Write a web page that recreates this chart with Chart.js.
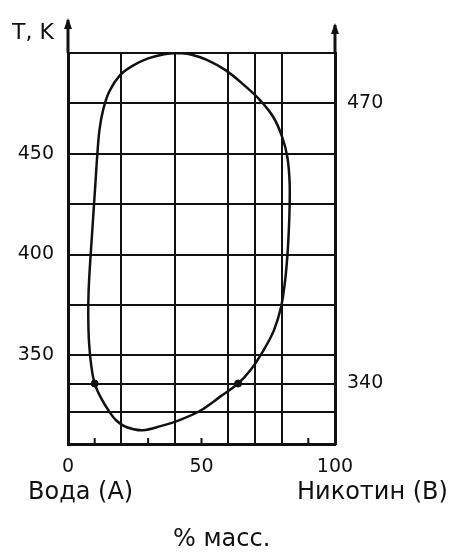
<!DOCTYPE html>
<html>
<head>
<meta charset="utf-8">
<script src="https://cdn.jsdelivr.net/npm/chart.js@4.4.1/dist/chart.umd.min.js"></script>
<style>
  html, body { margin: 0; padding: 0; background: #fff; }
  #wrap { width: 476px; height: 553px; }
</style>
</head>
<body>
<div id="wrap"><canvas id="diagram"></canvas></div>
<script>
// состав (% масс. никотина) и температура на кривой расслаивания
const nicotine = [41, 46, 52, 59, 66, 72, 77, 80.3, 82.2, 83, 83, 82.7, 82.2, 81.3, 79.8, 77, 73, 68.5, 63.7, 57, 49.5, 42, 35, 28, 22, 18, 15.5, 12.5, 10, 8.7, 7.9, 7.6, 7.7, 8.2, 8.9, 9.6, 10.3, 11, 11.8, 13.2, 15.5, 19.5, 24, 30, 36, 41];
const temperature = [500, 499.3, 496.6, 491.5, 484, 476.5, 468, 458, 448, 436, 424, 412, 400, 387, 374, 362, 352, 343, 336, 329.5, 322.5, 318, 315, 312.8, 314.3, 317.8, 322, 328.5, 336, 345, 356, 368, 381, 394, 408, 422, 436, 450, 462, 472, 481, 489, 493.5, 497.3, 499.4, 500];

// отмеченные точки
const markX = [10, 63.7];
const markT = [336, 336];

// сетка и подписи
const xGrid = [0, 20, 40, 50, 60, 70, 80, 100];
const xLabels = [0, 50, 100];
const xMinor = [10, 30, 50, 90];
const yGrid = [322, 336, 350, 375, 400, 425, 450, 475, 500];
const yLabels = [350, 400, 450];
const rightTicks = [336, 475];
const rightLabels = ["340", "470"];

const FONT = "'DejaVu Sans', sans-serif";
const INK = "#111";

const curve = nicotine.map((x, i) => ({ x: x, y: temperature[i] }));
const marks = markX.map((x, i) => ({ x: x, y: markT[i] }));

function arrow(ctx, x, yFrom, yTo) {
  ctx.beginPath();
  ctx.moveTo(x, yFrom);
  ctx.lineTo(x, yTo);
  ctx.stroke();
  ctx.beginPath();
  ctx.moveTo(x, yTo - 2);
  ctx.lineTo(x - 4, yTo + 9);
  ctx.lineTo(x + 4, yTo + 9);
  ctx.closePath();
  ctx.fill();
}

const decor = {
  id: "decor",
  afterDraw(chart) {
    const ctx = chart.ctx;
    const area = chart.chartArea;
    const xs = chart.scales.x;
    ctx.save();
    ctx.strokeStyle = INK;
    ctx.fillStyle = INK;
    ctx.lineWidth = 3;
    arrow(ctx, area.left, area.top, 20);
    arrow(ctx, area.right, area.top, 25);

    // мелкие засечки на оси состава
    ctx.lineWidth = 2;
    xMinor.forEach(v => {
      const px = xs.getPixelForValue(v);
      ctx.beginPath();
      ctx.moveTo(px, area.bottom);
      ctx.lineTo(px, area.bottom - 6);
      ctx.stroke();
    });

    ctx.textBaseline = "middle";
    ctx.textAlign = "left";
    ctx.font = "22px " + FONT;
    ctx.fillText("T, K", 12, 33);
    ctx.font = "24px " + FONT;
    ctx.fillText("Вода (А)", 28, 493);
    ctx.fillText("Никотин (В)", 297, 493);
    ctx.fillText("% масс.", 173, 540);
    ctx.restore();
  }
};

new Chart(document.getElementById("diagram"), {
  type: "scatter",
  data: {
    datasets: [{
      data: curve,
      showLine: true,
      borderColor: INK,
      borderWidth: 2.5,
      tension: 0.35,
      pointRadius: 0,
      fill: false
    }, {
      data: marks,
      showLine: false,
      pointRadius: 3.5,
      backgroundColor: INK,
      borderColor: INK
    }]
  },
  options: {
    responsive: true,
    maintainAspectRatio: false,
    animation: false,
    layout: { padding: { top: 53, left: 0, right: 0, bottom: 0 } },
    plugins: {
      legend: { display: false },
      tooltip: { enabled: false }
    },
    scales: {
      x: {
        type: "linear",
        min: 0,
        max: 100,
        afterBuildTicks: s => { s.ticks = xGrid.map(v => ({ value: v })); },
        afterFit: s => { s.height = 109; },
        grid: {
          color: c => (c.tick && c.tick.value === 50) ? "rgba(0,0,0,0)" : INK,
          lineWidth: 2,
          drawTicks: false
        },
        border: { color: INK, width: 3 },
        ticks: {
          autoSkip: false,
          maxRotation: 0,
          padding: 12,
          color: INK,
          font: { family: FONT, size: 19 },
          callback: v => xLabels.includes(v) ? String(v) : ""
        }
      },
      y: {
        min: 306,
        max: 500,
        afterBuildTicks: s => { s.ticks = yGrid.map(v => ({ value: v })); },
        afterFit: s => { s.width = 68; },
        grid: { color: INK, lineWidth: 2, drawTicks: false },
        border: { color: INK, width: 3 },
        ticks: {
          autoSkip: false,
          padding: 14,
          color: INK,
          font: { family: FONT, size: 19 },
          callback: v => yLabels.includes(v) ? String(v) : ""
        }
      },
      y2: {
        position: "right",
        min: 306,
        max: 500,
        afterBuildTicks: s => { s.ticks = rightTicks.map(v => ({ value: v })); },
        afterFit: s => { s.width = 476 - 335; },
        grid: { display: false, drawTicks: false },
        border: { display: true, color: INK, width: 3 },
        ticks: {
          autoSkip: false,
          padding: 12,
          color: INK,
          font: { family: FONT, size: 19 },
          callback: (v, i) => rightLabels[i]
        }
      }
    }
  },
  plugins: [decor]
});
</script>
</body>
</html>
